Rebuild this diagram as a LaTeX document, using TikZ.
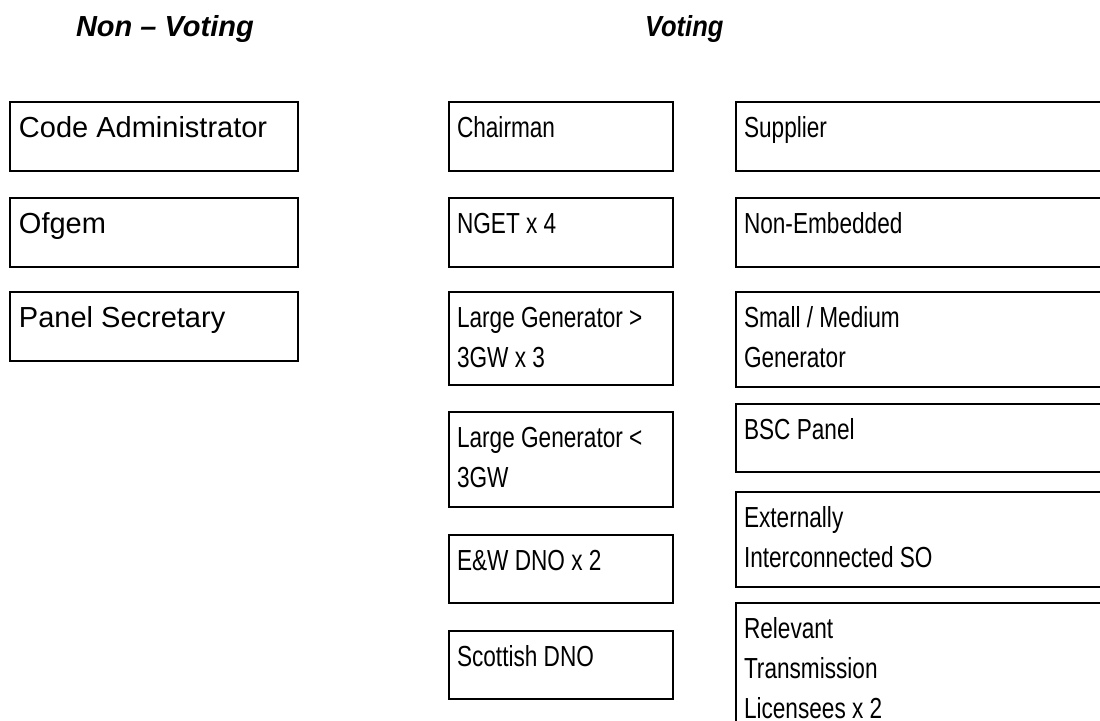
\documentclass[tikz,border=0pt]{standalone}
\usepackage{fontspec}
\setmainfont{Liberation Sans}
\newfontfamily\votingfont{Liberation Sans}[FakeStretch=0.78]
\newfontfamily\votingheadfont{Liberation Sans}[FakeStretch=0.88]
\definecolor{panelcol_black}{RGB}{0, 0, 0}
\definecolor{panelcol_white}{RGB}{255, 255, 255}
\begin{document}
\begin{tikzpicture}[x=1pt,y=-1pt,line cap=rect,
  cell/.style={rectangle, draw=panelcol_black, line width=2.0pt, inner sep=0pt, outer sep=0pt, anchor=north west},
  celltext/.style={inner sep=0pt, outer sep=0pt, panelcol_black, anchor=base west, yshift=-35.5pt},
  nonvotetext/.style={celltext, xshift=9pt, font=\fontsize{29pt}{40pt}\selectfont},
  votetext/.style={celltext, xshift=8pt, font=\votingfont\fontsize{29pt}{40pt}\selectfont},
  headtext/.style={inner sep=0pt, outer sep=0pt, panelcol_black, anchor=base west}]
\def\memberbox#1#2#3#4#5#6#7{% name, text style, x, y, width, height, text
  \node[cell, minimum width=#5pt, minimum height=#6pt] (#1) at (#3,#4) {};
  \node[#2] (#1 text) at (#1.north west) {\parbox[t]{#5pt}{#7}};}
\useasboundingbox [fill=panelcol_white] (0,0) rectangle (1100,720);
% headings
\node[headtext, font=\bfseries\itshape\fontsize{29pt}{40pt}\selectfont] (nonvoting) at (76.0,36.0) {Non – Voting};
\node[headtext, font=\votingheadfont\bfseries\itshape\fontsize{29pt}{40pt}\selectfont] (voting) at (645.0,36.0) {Voting};
% non-voting members
\memberbox{admin}{nonvotetext}{10}{102}{288}{69}{Code Administrator}
\memberbox{ofgem}{nonvotetext}{10}{198}{288}{69}{Ofgem}
\memberbox{secretary}{nonvotetext}{10}{292}{288}{69}{Panel Secretary}
% voting members, first column
\memberbox{chairman}{votetext}{449}{102}{224}{69}{Chairman}
\memberbox{nget}{votetext}{449}{198}{224}{69}{NGET x 4}
\memberbox{largeA}{votetext}{449}{292}{224}{93}{Large Generator >\\3GW x 3}
\memberbox{largeB}{votetext}{449}{412}{224}{95}{Large Generator <\\3GW}
\memberbox{ewdno}{votetext}{449}{535}{224}{68}{E\&W DNO x 2}
\memberbox{scotdno}{votetext}{449}{631}{224}{68}{Scottish DNO}
% voting members, second column
\memberbox{supplier}{votetext}{736}{102}{380}{69}{Supplier}
\memberbox{nonembedded}{votetext}{736}{198}{380}{69}{Non-Embedded}
\memberbox{smallgen}{votetext}{736}{292}{380}{95}{Small / Medium\\Generator}
\memberbox{bsc}{votetext}{736}{404}{380}{68}{BSC Panel}
\memberbox{extso}{votetext}{736}{492}{380}{95}{Externally\\Interconnected SO}
\memberbox{transmission}{votetext}{736}{603}{380}{150}{Relevant\\Transmission\\Licensees x 2}
\end{tikzpicture}
\end{document}
